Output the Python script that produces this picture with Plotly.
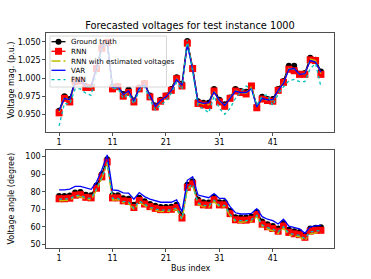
import plotly.graph_objects as go

bus = list(range(1, 51))
tick_vals = [1, 11, 21, 31, 41]
tick_text = ["1", "11", "21", "31", "41"]

gt_mag = [0.955, 0.975, 0.971, 0.996, 0.998, 0.989, 0.988, 1.014, 1.043, 1.050,
          0.988, 0.989, 0.978, 0.984, 0.969, 0.987, 0.993, 0.976, 0.962, 0.970,
          0.976, 0.985, 1.001, 0.992, 1.051, 1.014, 0.968, 0.966, 0.966, 0.985,
          0.970, 0.964, 0.973, 0.985, 0.982, 0.981, 0.989, 0.961, 0.974, 0.971,
          0.971, 0.985, 0.996, 1.017, 1.017, 1.006, 1.007, 1.028, 1.025, 1.009]
rnn_mag = [0.952, 0.972, 0.967, 0.995, 0.996, 0.987, 0.987, 1.013, 1.041, 1.049,
           0.985, 0.988, 0.975, 0.980, 0.967, 0.985, 0.992, 0.974, 0.960, 0.968,
           0.975, 0.983, 0.999, 0.989, 1.048, 1.013, 0.965, 0.963, 0.962, 0.982,
           0.967, 0.961, 0.972, 0.982, 0.980, 0.978, 0.989, 0.959, 0.971, 0.969,
           0.968, 0.983, 0.994, 1.012, 1.010, 1.005, 1.005, 1.025, 1.024, 1.005]
rnn_est_mag = [0.953, 0.974, 0.969, 0.995, 0.997, 0.988, 0.987, 1.013, 1.042, 1.049,
               0.986, 0.988, 0.976, 0.981, 0.968, 0.985, 0.992, 0.975, 0.961, 0.968,
               0.974, 0.983, 0.999, 0.990, 1.047, 1.013, 0.966, 0.964, 0.963, 0.983,
               0.968, 0.962, 0.972, 0.983, 0.980, 0.979, 0.988, 0.960, 0.972, 0.969,
               0.969, 0.983, 0.994, 1.013, 1.012, 1.005, 1.006, 1.026, 1.024, 1.006]
var_mag = [0.955, 0.972, 0.970, 0.995, 0.997, 0.988, 0.988, 1.013, 1.042, 1.049,
           0.987, 0.988, 0.977, 0.982, 0.968, 0.986, 0.991, 0.975, 0.961, 0.969,
           0.974, 0.983, 0.998, 0.990, 1.046, 1.012, 0.967, 0.965, 0.966, 0.981,
           0.969, 0.962, 0.972, 0.982, 0.980, 0.980, 0.985, 0.960, 0.972, 0.970,
           0.970, 0.983, 0.993, 1.012, 1.013, 1.005, 1.006, 1.024, 1.022, 1.008]
fnn_mag = [0.934, 0.965, 0.964, 0.985, 0.985, 0.979, 0.976, 1.008, 1.040, 1.050,
           0.985, 0.986, 0.972, 0.978, 0.964, 0.983, 0.988, 0.970, 0.956, 0.963,
           0.968, 0.979, 0.994, 0.984, 1.053, 1.008, 0.961, 0.958, 0.952, 0.975,
           0.958, 0.950, 0.958, 0.972, 0.980, 0.989, 0.985, 0.963, 0.975, 0.977,
           0.962, 0.978, 0.988, 0.996, 0.998, 0.995, 0.995, 1.013, 1.020, 0.988]

gt_ang = [77.5, 77.5, 77.8, 79.5, 79.8, 78.3, 78.0, 83.5, 90.0, 98.5,
          78.0, 78.0, 76.3, 76.0, 72.5, 76.5, 74.5, 73.0, 72.0, 71.3,
          71.3, 71.5, 72.5, 66.5, 84.0, 86.0, 75.5, 74.0, 73.8, 77.0,
          74.0, 74.0, 69.0, 65.5, 65.3, 65.3, 65.8, 68.5, 63.0, 61.5,
          60.5, 59.0, 62.0, 58.3, 57.5, 57.0, 55.0, 59.0, 59.5, 59.8]
rnn_ang = [76.0, 76.0, 76.3, 78.0, 78.3, 76.8, 76.5, 82.0, 88.5, 97.0,
           76.5, 76.5, 74.8, 74.5, 71.0, 75.0, 73.0, 71.5, 70.5, 69.8,
           69.8, 70.0, 71.0, 65.0, 82.5, 84.5, 74.0, 72.5, 72.3, 75.5,
           72.5, 72.5, 67.5, 64.0, 63.8, 63.8, 64.3, 67.0, 61.5, 60.0,
           59.0, 57.5, 60.5, 56.8, 56.0, 55.5, 54.0, 57.5, 58.0, 58.0]
rnn_est_ang = [74.8, 74.9, 75.2, 77.0, 77.2, 75.7, 75.4, 80.8, 87.5, 96.0,
               75.3, 75.4, 73.6, 73.4, 69.8, 73.9, 71.9, 70.3, 69.3, 68.6,
               68.7, 68.9, 69.9, 63.9, 81.4, 83.5, 72.8, 71.3, 71.1, 74.4,
               71.3, 71.4, 66.3, 62.8, 62.6, 62.7, 63.1, 65.8, 60.3, 58.7,
               57.7, 56.2, 59.3, 55.4, 54.7, 54.2, 52.2, 56.0, 56.5, 56.7]
var_ang = [81.0, 81.0, 81.5, 83.0, 83.0, 82.0, 81.4, 85.5, 92.5, 101.0,
           81.0, 80.7, 79.3, 79.2, 75.7, 79.5, 77.2, 75.8, 74.8, 74.0,
           74.0, 74.0, 75.3, 68.6, 86.5, 88.5, 78.1, 77.2, 76.6, 79.0,
           76.2, 76.2, 71.5, 68.0, 67.3, 67.3, 67.6, 70.3, 65.8, 64.3,
           63.5, 61.6, 64.3, 60.4, 59.7, 58.8, 56.3, 60.0, 60.5, 60.8]
fnn_ang = [75.8, 75.7, 76.0, 77.7, 78.0, 76.5, 76.2, 81.6, 88.2, 96.7,
           76.2, 76.2, 74.5, 74.2, 70.6, 74.7, 72.7, 71.2, 70.2, 69.5,
           69.5, 69.7, 70.7, 64.6, 82.2, 84.2, 73.7, 72.2, 72.0, 75.2,
           72.2, 72.2, 67.2, 63.6, 63.5, 63.5, 64.0, 66.6, 61.1, 59.6,
           58.6, 57.1, 60.1, 56.3, 55.6, 55.1, 53.3, 57.1, 57.6, 57.8]

legend_labels = ["Ground truth", "RNN", "RNN with estimated voltages", "VAR", "FNN"]
title_text = "Forecasted voltages for test instance 1000"
ytitle_top = "Voltage mag. (p.u.)"
ytitle_bot = "Voltage angle (degree)"
xtitle = "Bus index"

BLACK = "#000000"
RED = "#ff0000"
YEL = "#bfbf00"
BLUE = "#0000ff"
CYAN = "#00bfbf"
LW = 1.3

fig = go.Figure()

def add_set(gt, rnn, est, var, fnn, xa, ya):
    fig.add_trace(go.Scatter(x=bus, y=gt, mode="lines+markers", xaxis=xa, yaxis=ya,
                             line=dict(color=BLACK, width=LW),
                             marker=dict(symbol="circle", size=6, color=BLACK),
                             showlegend=False))
    fig.add_trace(go.Scatter(x=bus, y=rnn, mode="lines+markers", xaxis=xa, yaxis=ya,
                             line=dict(color=RED, width=LW),
                             marker=dict(symbol="square", size=7, color=RED),
                             showlegend=False))
    fig.add_trace(go.Scatter(x=bus, y=est, mode="lines", xaxis=xa, yaxis=ya,
                             line=dict(color=YEL, width=LW, dash="dashdot"),
                             showlegend=False))
    fig.add_trace(go.Scatter(x=bus, y=var, mode="lines", xaxis=xa, yaxis=ya,
                             line=dict(color=BLUE, width=LW),
                             showlegend=False))
    fig.add_trace(go.Scatter(x=bus, y=fnn, mode="lines", xaxis=xa, yaxis=ya,
                             line=dict(color=CYAN, width=LW, dash="dot"),
                             showlegend=False))

add_set(gt_mag, rnn_mag, rnn_est_mag, var_mag, fnn_mag, "x", "y")
add_set(gt_ang, rnn_ang, rnn_est_ang, var_ang, fnn_ang, "x2", "y2")

FONT = "DejaVu Sans"
axis_common = dict(showgrid=False, zeroline=False, showline=True, linecolor="#222222",
                   linewidth=0.8, mirror=True, ticks="outside", ticklen=3,
                   tickwidth=0.8, tickcolor="#222222", automargin=False,
                   tickfont=dict(family=FONT, size=8, color="#000000"))

WIDTH, HEIGHT = 371, 279
fig.update_layout(
    template="none",
    width=WIDTH, height=HEIGHT,
    margin=dict(l=46, r=37, t=33, b=31, pad=0),
    paper_bgcolor="white", plot_bgcolor="white",
    showlegend=False,
    hovermode=False,
    title=dict(text=title_text,
               x=190 / WIDTH, xanchor="center", y=1 - 25.5 / HEIGHT, yanchor="middle",
               yref="container", xref="container",
               font=dict(family=FONT, size=9.8, color="#000000")),
    xaxis=dict(domain=[0, 1], anchor="y", range=[-1.45, 52.45],
               tickvals=tick_vals, ticktext=tick_text, **axis_common),
    yaxis=dict(domain=[116 / 215, 1], anchor="x", range=[0.9256, 1.062],
               tickvals=[0.950, 0.975, 1.000, 1.025, 1.050],
               ticktext=["0.950", "0.975", "1.000", "1.025", "1.050"],
               **axis_common),
    xaxis2=dict(domain=[0, 1], anchor="y2", range=[-1.45, 52.45],
                tickvals=tick_vals, ticktext=tick_text, **axis_common),
    yaxis2=dict(domain=[0, 98 / 215], anchor="x2", range=[47.9, 103.8],
                tickvals=[50, 60, 70, 80, 90, 100], **axis_common),
)

def px(x):
    return (x - 46) / 288.0
def py(y):
    return (HEIGHT - 31 - y) / 215.0

title_font = dict(family=FONT, size=8, color="#000000")
fig.add_annotation(text=ytitle_top, xref="paper", yref="paper", x=px(10.5), y=py(80),
                   textangle=-90, showarrow=False, xanchor="center", yanchor="middle",
                   font=title_font)
fig.add_annotation(text=ytitle_bot, xref="paper", yref="paper", x=px(10.5), y=py(199),
                   textangle=-90, showarrow=False, xanchor="center", yanchor="middle",
                   font=title_font)
fig.add_annotation(text=xtitle, xref="paper", yref="paper", x=px(190), y=py(268),
                   showarrow=False, xanchor="center", yanchor="middle", font=title_font)

# Custom legend inside the top axes (domain coordinates)
W, H = 288.0, 99.0
def dx(p):
    return (p - 46) / W
def dy(p):
    return 1 - (p - 33) / H

shapes = [dict(type="rect", xref="x domain", yref="y domain",
               x0=dx(50), x1=dx(166.5), y0=dy(87), y1=dy(36),
               fillcolor="rgba(255,255,255,0.8)", line=dict(color="#cccccc", width=0.8),
               layer="above")]
rows_y = [41.7, 51.3, 61.0, 70.3, 79.7]
styles = [(BLACK, "solid"), (RED, "solid"), (YEL, "dashdot"), (BLUE, "solid"), (CYAN, "dot")]
for ry, (col, dash) in zip(rows_y, styles):
    shapes.append(dict(type="line", xref="x domain", yref="y domain",
                       x0=dx(51.5), x1=dx(65.5), y0=dy(ry), y1=dy(ry),
                       line=dict(color=col, width=LW, dash=dash), layer="above"))
cx, r1 = 58.5, 3.0
shapes.append(dict(type="circle", xref="x domain", yref="y domain",
                   x0=dx(cx - r1), x1=dx(cx + r1), y0=dy(rows_y[0] + r1), y1=dy(rows_y[0] - r1),
                   fillcolor=BLACK, line=dict(color=BLACK, width=0), layer="above"))
r2 = 3.5
shapes.append(dict(type="rect", xref="x domain", yref="y domain",
                   x0=dx(cx - r2), x1=dx(cx + r2), y0=dy(rows_y[1] + r2), y1=dy(rows_y[1] - r2),
                   fillcolor=RED, line=dict(color=RED, width=0), layer="above"))
fig.update_layout(shapes=shapes)

for ry, lab in zip(rows_y, legend_labels):
    fig.add_annotation(text=lab, xref="x domain", yref="y domain", x=dx(69.5), y=dy(ry),
                       xanchor="left", yanchor="middle", showarrow=False, borderpad=0,
                       font=dict(family=FONT, size=7.1, color="#000000"))

fig.write_html("out.html", config={"displayModeBar": False, "staticPlot": True},
               post_script="document.body.style.margin='0';document.body.style.padding='0';"
                           "document.documentElement.style.overflow='hidden';")
